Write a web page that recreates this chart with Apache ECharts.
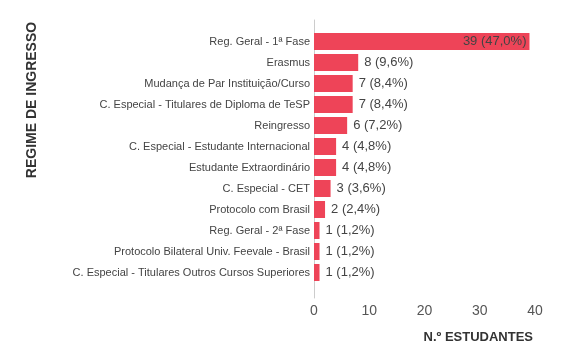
<!DOCTYPE html>
<html><head><meta charset="utf-8">
<script src="https://cdn.jsdelivr.net/npm/echarts@6/dist/echarts.min.js"></script>
<style>html,body{margin:0;padding:0;background:#fff}#c{width:570px;height:360px}</style>
</head><body><div id="c"></div>
<script>
const categories = [
  "Reg. Geral - 1ª Fase",
  "Erasmus",
  "Mudança de Par Instituição/Curso",
  "C. Especial - Titulares de Diploma de TeSP",
  "Reingresso",
  "C. Especial - Estudante Internacional",
  "Estudante Extraordinário",
  "C. Especial - CET",
  "Protocolo com Brasil",
  "Reg. Geral - 2ª Fase",
  "Protocolo Bilateral Univ. Feevale - Brasil",
  "C. Especial - Titulares Outros Cursos Superiores"
];
const counts = [39, 8, 7, 7, 6, 4, 4, 3, 2, 1, 1, 1];
const percents = ["47,0%", "9,6%", "8,4%", "8,4%", "7,2%", "4,8%", "4,8%", "3,6%", "2,4%", "1,2%", "1,2%", "1,2%"];
const xTicks = [0, 10, 20, 30, 40];
const xTitle = "N.º ESTUDANTES";
const yTitle = "REGIME DE INGRESSO";

const FONT = "'Liberation Sans', Arial, sans-serif";
const chart = echarts.init(document.getElementById('c'), null, {renderer: 'canvas'});
chart.setOption({
  animation: false,
  backgroundColor: '#fff',
  grid: [
    {left: 314, width: 221, top: 31, bottom: 77, containLabel: false},
    {left: 314, width: 221, top: 20, bottom: 62, containLabel: false}
  ],
  xAxis: [
    {
      gridIndex: 0, type: 'value', min: xTicks[0], max: xTicks[xTicks.length - 1], interval: 10,
      axisLine: {show: false}, axisTick: {show: false}, splitLine: {show: false},
      axisLabel: {fontFamily: FONT, fontSize: 14, color: '#555', margin: 21}
    },
    {gridIndex: 1, type: 'value', show: false, min: 0, max: 1}
  ],
  yAxis: [
    {
      gridIndex: 0, type: 'category', data: categories, inverse: true,
      axisLine: {show: false}, axisTick: {show: false}, splitLine: {show: false},
      axisLabel: {fontFamily: FONT, fontSize: 11, color: '#444', margin: 4}
    },
    {
      gridIndex: 1, type: 'value', min: 0, max: 1,
      axisLine: {show: true, onZero: false, lineStyle: {color: '#ccc', width: 1}},
      axisTick: {show: false}, axisLabel: {show: false}, splitLine: {show: false}
    }
  ],
  graphic: [
    {type: 'text', x: 32, y: 100, rotation: Math.PI / 2,
     style: {text: yTitle, font: "bold 14px 'Liberation Sans', Arial, sans-serif", fill: '#333', textAlign: 'center', textVerticalAlign: 'middle'}},
    {type: 'text', x: 533, y: 337,
     style: {text: xTitle, font: "bold 13px 'Liberation Sans', Arial, sans-serif", fill: '#333', textAlign: 'right', textVerticalAlign: 'middle'}}
  ],
  series: [{
    type: 'bar', xAxisIndex: 0, yAxisIndex: 0,
    data: counts.map((v, i) => ({
      value: v,
      label: i === 0 ? {position: 'insideRight', distance: 3} : {position: 'right', distance: 6}
    })),
    barCategoryGap: '19%',
    itemStyle: {color: '#ee4458'},
    label: {
      show: true, fontFamily: FONT, fontSize: 13, color: '#444',
      formatter: p => p.value + ' (' + percents[p.dataIndex] + ')'
    }
  }]
});
</script></body></html>
